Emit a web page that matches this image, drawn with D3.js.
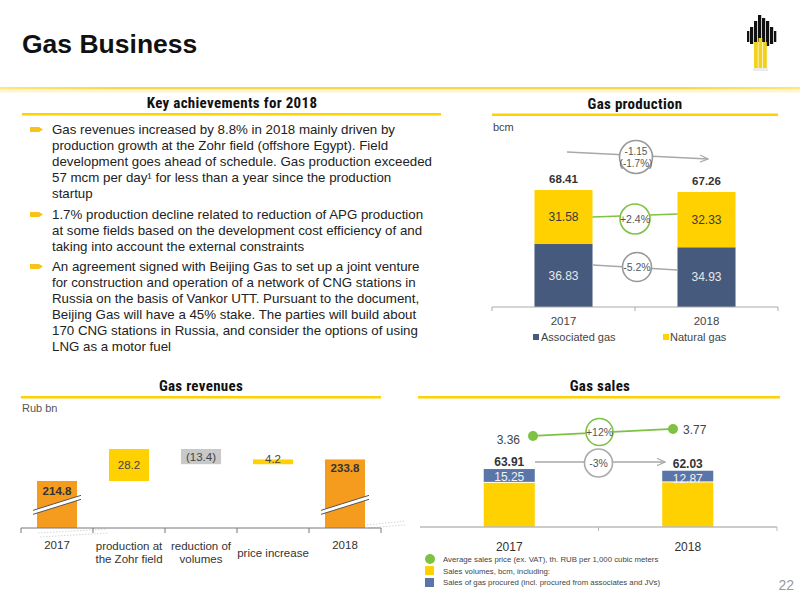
<!DOCTYPE html>
<html><head><meta charset="utf-8">
<script src="https://cdn.jsdelivr.net/npm/d3@7"></script>
<style>
html,body{margin:0;padding:0;background:#fff;}
svg{display:block;font-family:"Liberation Sans",Arial,Helvetica,sans-serif;}
.narrow{font-family:"Liberation Sans Narrow","Arial Narrow","Roboto Condensed","Liberation Sans",sans-serif;font-stretch:condensed;}
</style></head>
<body>
<svg id="c" width="800" height="600"></svg>
<script>
// ---------- DATA ----------
const prodYears = ["2017", "2018"];
const associatedGas = [36.83, 34.93];
const naturalGas = [31.58, 32.33];
const prodTotals = [68.41, 67.26];

const revCategories = ["2017", "production at|the Zohr field", "reduction of|volumes", "price increase", "2018"];
const revValues = [214.8, 28.2, -13.4, 4.2, 233.8];
const revLabels = ["214.8", "28.2", "(13.4)", "4.2", "233.8"];
const revTypes = ["total", "up", "down", "up", "total"];

const salesYears = ["2017", "2018"];
const salesTotal = [63.91, 62.03];
const salesProcured = [15.25, 12.87];
const salesPrice = [3.36, 3.77];

const bullets = [
  ["Gas revenues increased by 8.8% in 2018 mainly driven by",
   "production growth at the Zohr field (offshore Egypt). Field",
   "development goes ahead of schedule. Gas production exceeded",
   "57 mcm per day¹ for less than a year since the production",
   "startup"],
  ["1.7% production decline related to reduction of APG production",
   "at some fields based on the development cost efficiency of and",
   "taking into account the external constraints"],
  ["An agreement signed with Beijing Gas to set up a joint venture",
   "for construction and operation of a network of CNG stations in",
   "Russia  on the basis of Vankor UTT. Pursuant to the document,",
   "Beijing Gas will have a 45% stake. The parties will build about",
   "170 CNG stations in Russia, and consider the options of using",
   "LNG as a motor fuel"]
];

// ---------- COLORS ----------
const YEL = "#FFD100", BLUE = "#465A7E", BLUE2 = "#5A76A8", ORANGE = "#F59C1E",
      GRAY = "#C9C9C9", GREEN = "#7DC242", ARROW = "#A8A8A8";

const svg = d3.select("#c");
const defs = svg.append("defs");
const g1 = defs.append("linearGradient").attr("id", "hdr").attr("x1", "0").attr("x2", "1");
g1.append("stop").attr("offset", "0").attr("stop-color", "#FFE680");
g1.append("stop").attr("offset", "0.15").attr("stop-color", "#F9D649");
g1.append("stop").attr("offset", "0.85").attr("stop-color", "#F9D649");
g1.append("stop").attr("offset", "1").attr("stop-color", "#FFE680");
defs.append("marker").attr("id", "arr").attr("viewBox", "0 0 10 10").attr("refX", 9).attr("refY", 5)
  .attr("markerWidth", 7).attr("markerHeight", 7).attr("orient", "auto")
  .append("path").attr("d", "M0,1 L9,5 L0,9").attr("fill", "none").attr("stroke", ARROW).attr("stroke-width", 1.3);

// ---------- HEADER ----------
svg.append("text").attr("x", 22).attr("y", 53).attr("font-size", 26.5).attr("font-weight", "bold")
  .attr("fill", "#111").text("Gas Business");
svg.append("rect").attr("x", 0).attr("y", 87).attr("width", 800).attr("height", 2.5).attr("fill", "url(#hdr)");
svg.append("rect").attr("x", 0).attr("y", 89.5).attr("width", 800).attr("height", 3).attr("fill", "#FFF6D0");

// logo
const logo = svg.append("g");
const blackBars = [[750, 27, 44], [754, 21, 46], [758, 15, 42], [762, 18, 42], [766, 21, 46], [770, 27, 44]];
blackBars.forEach(b => logo.append("rect").attr("x", b[0]).attr("y", b[1]).attr("width", 3.2).attr("height", b[2] - b[1]).attr("fill", "#111"));
logo.append("rect").attr("x", 747).attr("y", 31).attr("width", 2.3).attr("height", 11).attr("fill", "#111");
logo.append("rect").attr("x", 774).attr("y", 31).attr("width", 2.3).attr("height", 11).attr("fill", "#111");
[[754, 42], [758.5, 38], [763, 42]].forEach(b => logo.append("rect").attr("x", b[0]).attr("y", b[1]).attr("width", 3.8).attr("height", 68 - b[1]).attr("fill", "#F2D21B"));
logo.append("rect").attr("x", 753).attr("y", 68).attr("width", 15).attr("height", 3).attr("fill", "#ddd").attr("opacity", 0.6);

// section headers
function section(title, cx, y, x1, x2, uy) {
  svg.append("text").attr("class", "narrow").attr("x", cx).attr("y", y).attr("text-anchor", "middle")
    .attr("font-size", 15).attr("font-weight", "bold").attr("letter-spacing", 0.3).attr("fill", "#111").text(title);
  svg.append("rect").attr("x", x1).attr("y", uy).attr("width", x2 - x1).attr("height", 2.5).attr("fill", YEL);
}
section("Key achievements for 2018", 232, 108, 22, 441, 113);
section("Gas production", 635, 109, 492, 778, 113.5);
section("Gas revenues", 201, 391, 21, 381, 396);
section("Gas sales", 600, 391, 418, 780, 396);

// ---------- BULLETS ----------
const bstarts = [134, 219, 271];
bullets.forEach((lines, bi) => {
  const y0 = bstarts[bi];
  svg.append("path").attr("d", `M30,${y0 - 7} L39,${y0 - 7} L43,${y0 - 4.5} L39,${y0 - 2} L30,${y0 - 2} Z`).attr("fill", "#F7C31A");
  lines.forEach((ln, li) => {
    svg.append("text").attr("x", 52).attr("y", y0 + li * 16).attr("font-size", 13.3).attr("fill", "#222").text(ln);
  });
});

// ---------- GAS PRODUCTION ----------
const pAxisY = 307;
const xProd = d3.scaleBand().domain(prodYears).range([492, 778]).paddingInner(0.594).paddingOuter(0.297);
const yProd = d3.scaleLinear().domain([0, 70]).range([pAxisY, pAxisY - 70 * 1.71]);
svg.append("text").attr("x", 493).attr("y", 131).attr("font-size", 11).attr("fill", "#444").text("bcm");

const pg = svg.append("g");
prodYears.forEach((yr, i) => {
  const x = xProd(yr), w = xProd.bandwidth();
  pg.append("rect").attr("x", x).attr("width", w).attr("y", yProd(associatedGas[i])).attr("height", yProd(0) - yProd(associatedGas[i])).attr("fill", BLUE);
  pg.append("rect").attr("x", x).attr("width", w).attr("y", yProd(associatedGas[i] + naturalGas[i])).attr("height", yProd(associatedGas[i]) - yProd(associatedGas[i] + naturalGas[i])).attr("fill", YEL);
  const cx = x + w / 2;
  pg.append("text").attr("x", cx).attr("y", (yProd(0) + yProd(associatedGas[i])) / 2 + 4).attr("text-anchor", "middle").attr("font-size", 12).attr("fill", "#E8E8E8").text(associatedGas[i].toFixed(2));
  pg.append("text").attr("x", cx).attr("y", (yProd(associatedGas[i]) + yProd(associatedGas[i] + naturalGas[i])) / 2 + 4).attr("text-anchor", "middle").attr("font-size", 12).attr("fill", "#3a3a3a").text(naturalGas[i].toFixed(2));
  pg.append("text").attr("x", cx).attr("y", yProd(prodTotals[i]) - 7).attr("text-anchor", "middle").attr("font-size", 11.5).attr("font-weight", "bold").attr("fill", "#333").text(prodTotals[i].toFixed(2));
});
const pAxis = svg.append("g").attr("transform", `translate(0,${pAxisY})`)
  .call(d3.axisBottom(xProd).tickSize(0).tickPadding(10));
pAxis.select(".domain").attr("stroke", "#aaa").attr("d", "M492,0H778");
pAxis.selectAll("text").attr("font-size", 11.5).attr("fill", "#444").attr("font-family", null);
[492, 635, 778].forEach(x => pAxis.append("line").attr("x1", x).attr("x2", x).attr("y1", 0).attr("y2", 4).attr("stroke", "#aaa"));

// annotations production
function circ(cx, cy, r, col, lines, fs) {
  svg.append("circle").attr("cx", cx).attr("cy", cy).attr("r", r).attr("fill", "#fff").attr("stroke", col).attr("stroke-width", 1.6);
  lines.forEach((t, k) => svg.append("text").attr("x", cx).attr("y", cy + 4 + (k - (lines.length - 1) / 2) * 12).attr("text-anchor", "middle").attr("font-size", fs).attr("fill", "#555").text(t));
}
const xp0 = xProd("2017") + xProd.bandwidth(), xp1 = xProd("2018");
svg.append("line").attr("x1", 567).attr("y1", 152).attr("x2", 708).attr("y2", 159).attr("stroke", ARROW).attr("stroke-width", 1.3).attr("marker-end", "url(#arr)");
circ(636, 157, 16.5, "#999", ["-1.15", "(-1.7%)"], 10);
svg.append("line").attr("x1", xp0).attr("y1", 217).attr("x2", xp1).attr("y2", 214).attr("stroke", GREEN).attr("stroke-width", 1.5);
circ(635, 219, 15, GREEN, ["+2.4%"], 10.5);
svg.append("line").attr("x1", xp0).attr("y1", 265).attr("x2", xp1).attr("y2", 270).attr("stroke", ARROW).attr("stroke-width", 1.5);
circ(637, 267, 14.5, "#999", ["-5.2%"], 10.5);

// legend production
svg.append("rect").attr("x", 533).attr("y", 334).attr("width", 6).attr("height", 6).attr("fill", BLUE);
svg.append("text").attr("x", 541).attr("y", 341).attr("font-size", 11).attr("fill", "#444").text("Associated gas");
svg.append("rect").attr("x", 663).attr("y", 334).attr("width", 6).attr("height", 6).attr("fill", YEL);
svg.append("text").attr("x", 670).attr("y", 341).attr("font-size", 11).attr("fill", "#444").text("Natural gas");

// ---------- GAS REVENUES ----------
svg.append("text").attr("x", 22).attr("y", 412).attr("font-size", 11).attr("fill", "#555").text("Rub bn");
const rAxisY = 528;
const xRev = d3.scaleBand().domain(revCategories).range([21, 381]).paddingInner(0.444).paddingOuter(0.222);
const yRev = d3.scaleLinear().domain([173.4, 243]).range([rAxisY, 449]);
const revColors = { total: ORANGE, up: YEL, down: GRAY };
let run = 0;
const steps = revValues.map((v, i) => {
  let a, b;
  if (revTypes[i] === "total") { a = yRev.domain()[0]; b = v; run = v; }
  else { a = run; b = run + v; run = b; }
  return { lo: Math.min(a, b), hi: Math.max(a, b) };
});
const rg = svg.append("g");
revCategories.forEach((c, i) => {
  const x = xRev(c), w = xRev.bandwidth();
  rg.append("rect").attr("x", x).attr("width", w).attr("y", yRev(steps[i].hi)).attr("height", yRev(steps[i].lo) - yRev(steps[i].hi)).attr("fill", revColors[revTypes[i]]);
});
// break marks
[0, 4].forEach(i => {
  const x = xRev(revCategories[i]) - 4, w = xRev.bandwidth() + 8, yc = yRev(196);
  const p = `M${x},${yc + 8} L${x + w},${yc - 7} L${x + w},${yc - 3} L${x},${yc + 12} Z`;
  rg.append("path").attr("d", p).attr("fill", "#fff");
  rg.append("line").attr("x1", x).attr("y1", yc + 8).attr("x2", x + w).attr("y2", yc - 7).attr("stroke", "#555").attr("stroke-width", 1);
  rg.append("line").attr("x1", x).attr("y1", yc + 12).attr("x2", x + w).attr("y2", yc - 3).attr("stroke", "#555").attr("stroke-width", 1);
});
// faint dotted decorations
[[38, 533, 107, 529], [40, 537, 108, 533], [367, 525, 405, 521], [368, 528, 405, 525]].forEach(d =>
  rg.append("line").attr("x1", d[0]).attr("y1", d[1]).attr("x2", d[2]).attr("y2", d[3]).attr("stroke", "#ccc").attr("stroke-width", 0.8).attr("stroke-dasharray", "1.5,1.5"));
// labels
revCategories.forEach((c, i) => {
  const cx = xRev(c) + xRev.bandwidth() / 2;
  let y, bold = false;
  if (revTypes[i] === "total") { y = yRev(steps[i].hi) + (i === 0 ? 14 : 13); bold = true; }
  else if (i === 3) { y = yRev(steps[i].hi) + 4; }
  else { y = (yRev(steps[i].hi) + yRev(steps[i].lo)) / 2 + 4; }
  rg.append("text").attr("x", cx).attr("y", y).attr("text-anchor", "middle").attr("font-size", 11.5)
    .attr("font-weight", bold ? "bold" : "normal").attr("fill", bold ? "#333" : "#444").text(revLabels[i]);
});
const rAxis = svg.append("g").attr("transform", `translate(0,${rAxisY})`);
rAxis.append("line").attr("x1", 21).attr("x2", 381).attr("stroke", "#777");
const step = xRev.step();
d3.range(6).forEach(k => rAxis.append("line").attr("x1", 21 + k * step).attr("x2", 21 + k * step).attr("y1", 0).attr("y2", 5).attr("stroke", "#777"));
revCategories.forEach((c, i) => {
  const lines = c.split("|");
  const cx = xRev(c) + xRev.bandwidth() / 2;
  const y0 = lines.length > 1 ? 22 : (i === 3 ? 29 : 21);
  lines.forEach((t, k) => rAxis.append("text").attr("x", cx).attr("y", y0 + k * 12.5).attr("text-anchor", "middle").attr("font-size", 11.5).attr("fill", "#333").text(t));
});

// ---------- GAS SALES ----------
const sAxisY = 527;
const xSales = d3.scaleBand().domain(salesYears).range([420, 777]).paddingInner(0.714).paddingOuter(0.357);
const ySales = d3.scaleLinear().domain([0, 70]).range([sAxisY, sAxisY - 70 * 0.907]);
const xPrice = d3.scalePoint().domain(salesYears).range([533, 673]);
const yPrice = d3.scaleLinear().domain([3, 4]).range([442.1, 425]);
const sg = svg.append("g");
salesYears.forEach((yr, i) => {
  const x = xSales(yr), w = xSales.bandwidth(), own = salesTotal[i] - salesProcured[i];
  sg.append("rect").attr("x", x).attr("width", w).attr("y", ySales(own)).attr("height", ySales(0) - ySales(own)).attr("fill", YEL);
  sg.append("rect").attr("x", x).attr("width", w).attr("y", ySales(salesTotal[i])).attr("height", ySales(own) - ySales(salesTotal[i]) - 1).attr("fill", BLUE2);
  const cx = x + w / 2;
  sg.append("text").attr("x", cx).attr("y", ySales(salesTotal[i]) + 12).attr("text-anchor", "middle").attr("font-size", 12).attr("fill", "#F2F2F2").text(salesProcured[i].toFixed(2));
  sg.append("text").attr("x", cx).attr("y", ySales(salesTotal[i]) - 3).attr("text-anchor", "middle").attr("font-size", 12).attr("font-weight", "bold").attr("fill", "#333").text(salesTotal[i].toFixed(2));
});
const sAxis = svg.append("g").attr("transform", `translate(0,${sAxisY})`)
  .call(d3.axisBottom(xSales).tickSize(0).tickPadding(15));
sAxis.select(".domain").attr("stroke", "#bbb").attr("stroke-width", 1.3).attr("d", "M420,0H777");
sAxis.selectAll("text").attr("font-size", 12).attr("fill", "#333").attr("font-family", null);
[598.5, 777].forEach(x => sAxis.append("line").attr("x1", x).attr("x2", x).attr("y1", 0).attr("y2", 4).attr("stroke", "#bbb"));

// sales annotations
svg.append("line").attr("x1", 535).attr("y1", 462).attr("x2", 665).attr("y2", 462).attr("stroke", ARROW).attr("stroke-width", 1.3).attr("marker-end", "url(#arr)");
circ(598.5, 463, 14, "#AAA", ["-3%"], 10.5);
// price line
const line = d3.line().x((d, i) => xPrice(salesYears[i])).y(d => yPrice(d));
svg.append("path").attr("d", line(salesPrice)).attr("fill", "none").attr("stroke", GREEN).attr("stroke-width", 1.8);
circ(599.5, 432, 13.5, GREEN, ["+12%"], 10.5);
salesPrice.forEach((p, i) => {
  svg.append("circle").attr("cx", xPrice(salesYears[i])).attr("cy", yPrice(p)).attr("r", 5).attr("fill", GREEN);
});
svg.append("text").attr("x", xPrice("2017") - 13).attr("y", yPrice(salesPrice[0]) + 8).attr("text-anchor", "end").attr("font-size", 12).attr("fill", "#444").text(salesPrice[0].toFixed(2));
svg.append("text").attr("x", xPrice("2018") + 10).attr("y", yPrice(salesPrice[1]) + 5).attr("text-anchor", "start").attr("font-size", 12).attr("fill", "#444").text(salesPrice[1].toFixed(2));

// sales legend
svg.append("circle").attr("cx", 430).attr("cy", 559).attr("r", 5).attr("fill", GREEN);
svg.append("text").attr("x", 443).attr("y", 562).attr("font-size", 7.8).attr("fill", "#444").text("Average sales price (ex. VAT), th. RUB per 1,000 cubic meters");
svg.append("rect").attr("x", 425).attr("y", 566).attr("width", 9).attr("height", 9).attr("fill", YEL);
svg.append("text").attr("x", 443).attr("y", 574).attr("font-size", 7.8).attr("fill", "#444").text("Sales volumes, bcm, including:");
svg.append("rect").attr("x", 425).attr("y", 578).attr("width", 9).attr("height", 9).attr("fill", BLUE2);
svg.append("text").attr("x", 443).attr("y", 585).attr("font-size", 7.8).attr("fill", "#444").text("Sales of gas procured (incl. procured from associates and JVs)");

// page number
svg.append("text").attr("x", 794).attr("y", 590).attr("text-anchor", "end").attr("font-size", 14).attr("fill", "#999").text("22");
</script>
</body></html>
